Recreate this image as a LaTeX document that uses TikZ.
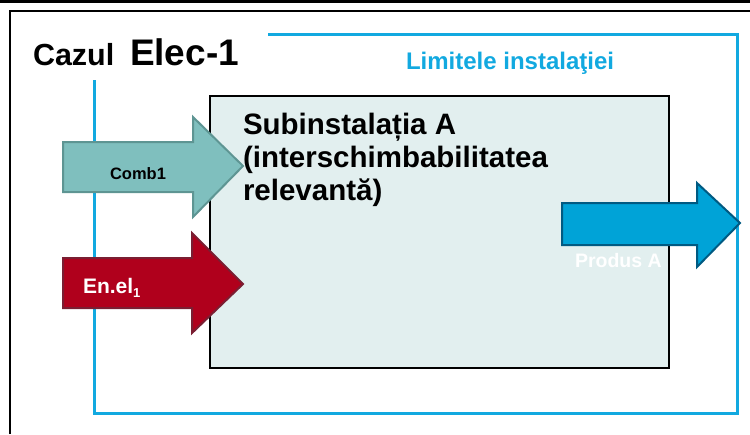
\documentclass[tikz,border=0pt]{standalone}
\usepackage{fontspec}
\setmainfont{Liberation Sans}
\begin{document}
\begin{tikzpicture}[x=1pt,y=-1pt,
  frameline/.style={line width=2.4pt,draw=black},
  limitline/.style={line width=3pt,draw=limitblue,line join=miter},
  subbox/.style={draw=black,line width=2.6pt,fill=boxfill},
  blockarrow/.style={line width=2pt,line join=miter},
  txt/.style={inner sep=0pt,outer sep=0pt,font=\bfseries},
  subtxt/.style={txt,anchor=base west,font=\bfseries\fontsize{29.5}{29.5}\selectfont},
]
\definecolor{limitblue}{HTML}{12A9E0}
\definecolor{boxfill}{HTML}{E2EFEF}
\definecolor{combfill}{HTML}{7FBFBE}
\definecolor{combdraw}{HTML}{5E9593}
\definecolor{elfill}{HTML}{B0001C}
\definecolor{eldraw}{HTML}{7A1E32}
\definecolor{prodfill}{HTML}{00A3D7}
\definecolor{proddraw}{HTML}{005A82}
\useasboundingbox (0,0) rectangle (750,434);

% outer frame
\draw[line width=3pt] (0,1) -- (750,1);
\draw[frameline] (10,434) -- (10,11) -- (750,11);

% title
\node[txt,anchor=base west] (cazul) at (33,65) {\fontsize{30.5}{30}\selectfont Cazul};
\node[txt,anchor=base west] (elec) at (130,65) {\fontsize{37}{37}\selectfont Elec-1};

% sub-installation
\path[subbox] (210,96) rectangle (669,368);
\node[subtxt] (sub1) at (243,134) {Subinstalația A};
\node[subtxt] (sub2) at (243,167) {(interschimbabilitatea};
\node[subtxt] (sub3) at (243,200) {relevantă)};

% installation boundary
\draw[limitline] (268,34) -- (737,34) -- (737,413) -- (94,413) -- (94,80);
\node[txt,anchor=base west,text=limitblue] (lim) at (406,69)
  {\fontsize{24}{24}\selectfont Limitele instalaţiei};

% input: fuel
\path[blockarrow,fill=combfill,draw=combdraw]
  (63,142) -- (193,142) -- (193,117) -- (243,166) -- (193,217) -- (193,192) -- (63,192) -- cycle;
\node[txt,anchor=base] (comb) at (138,179) {\fontsize{16.5}{16.5}\selectfont Comb1};

% input: electricity
\path[blockarrow,fill=elfill,draw=eldraw]
  (63,258) -- (192,258) -- (192,233) -- (243,284) -- (192,333) -- (192,308) -- (63,308) -- cycle;
\node[txt,anchor=base west,text=white] (enel) at (83,293)
  {\fontsize{21}{21}\selectfont En.el\raisebox{-4pt}{\fontsize{13}{13}\selectfont 1}};

% output: product
\path[blockarrow,fill=prodfill,draw=proddraw]
  (562,203) -- (697,203) -- (697,183) -- (740,223) -- (697,267) -- (697,245) -- (562,245) -- cycle;
\node[txt,anchor=base west,text=white] (prod) at (575,267) {\fontsize{19.5}{19.5}\selectfont Produs A};
\end{tikzpicture}
\end{document}
